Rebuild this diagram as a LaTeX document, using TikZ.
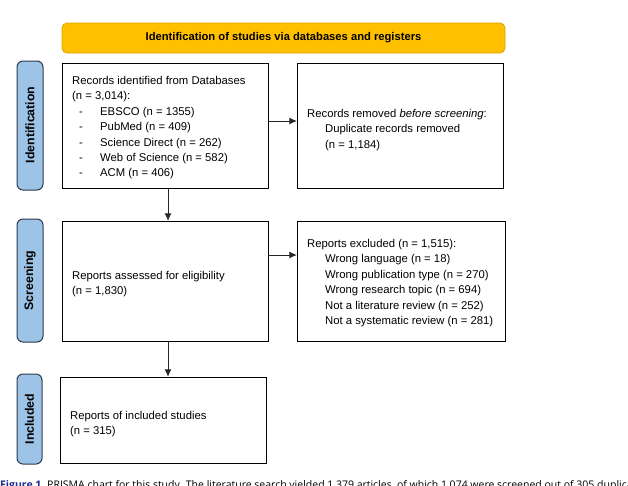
\documentclass[tikz,border=0pt]{standalone}
\usepackage{fontspec}
\setmainfont{Liberation Sans}
\newfontfamily\capfont{Open Sans}
\usetikzlibrary{arrows.meta}
\definecolor{bannerfill}{HTML}{FFC000}
\definecolor{bannerdraw}{HTML}{D9A300}
\definecolor{sidefill}{HTML}{9DC3E6}
\definecolor{sidedraw}{HTML}{2E3B4E}
\definecolor{capblue}{HTML}{1F2A8C}
\tikzset{
  stagebox/.style={draw=black, line width=1pt, fill=white},
  sidelabel/.style={draw=sidedraw, line width=1pt, fill=sidefill, rounded corners=6pt},
  banner/.style={draw=bannerdraw, line width=0.8pt, fill=bannerfill, rounded corners=5pt},
  boxtext/.style={inner sep=0pt, align=left, anchor=north west, font=\fontsize{11.3}{15.4}\selectfont},
  sidetext/.style={inner sep=0pt, rotate=90, font=\fontsize{12.3}{14}\selectfont\bfseries},
  arr/.style={draw=black!85, line width=0.9pt, -{Latex[length=7.5pt,width=7pt]}}
}
\newcommand{\fl}{\rule{0pt}{8.5pt}}
\newcommand{\ind}{\hspace*{18pt}}
\newcommand{\dashitem}{\hspace*{7pt}\makebox[21pt][l]{-}}
\begin{document}
\begin{tikzpicture}[x=1pt,y=-1pt]
\useasboundingbox (0,0) rectangle (628,485);
\fill[white] (0,0) rectangle (628,485);

% banner
\draw[banner] (62,23) rectangle (505,53);
\node[inner sep=0pt, font=\fontsize{11.2}{14}\selectfont\bfseries] (bannertext) at (283.5,38) {Identification of studies via databases and registers};

% side labels
\draw[sidelabel] (17,61) rectangle (43,190);
\node[sidetext] (lid) at (30,125) {Identification};
\draw[sidelabel] (17,219) rectangle (43,342);
\node[sidetext] (lsc) at (30,280.5) {Screening};
\draw[sidelabel] (17,374) rectangle (42,464);
\node[sidetext] (lin) at (29.5,419) {Included};

% boxes
\draw[stagebox] (62,63) rectangle (268,188);
\node (box1) at (165,125.5) [minimum width=206pt, minimum height=125pt, inner sep=0pt] {};
\draw[stagebox] (297,63) rectangle (503,188);
\node (box2) at (400,125.5) [minimum width=206pt, minimum height=125pt, inner sep=0pt] {};
\draw[stagebox] (62,221) rectangle (268,341);
\node (box3) at (165,281) [minimum width=206pt, minimum height=120pt, inner sep=0pt] {};
\draw[stagebox] (297,221) rectangle (505,341);
\node (box4) at (401,281) [minimum width=208pt, minimum height=120pt, inner sep=0pt] {};
\draw[stagebox] (60,377) rectangle (266,463);
\node (box5) at (163,420) [minimum width=206pt, minimum height=86pt, inner sep=0pt] {};

% texts
\node[boxtext] (t1) at (72,75.8) {\fl Records identified from Databases\\
(n = 3,014):\\
\dashitem EBSCO (n = 1355)\\
\dashitem PubMed (n = 409)\\
\dashitem Science Direct (n = 262)\\
\dashitem Web of Science (n = 582)\\
\dashitem ACM (n = 406)};
\node[boxtext] (t2) at (307,108.8) {\fl Records removed \textit{before screening}:\\
\ind Duplicate records removed\\
\ind (n = 1,184)};
\node[boxtext] (t3) at (72,270.8) {\fl Reports assessed for eligibility\\
(n = 1,830)};
\node[boxtext] (t4) at (307,238.8) {\fl Reports excluded (n = 1,515):\\
\ind Wrong language (n = 18)\\
\ind Wrong publication type (n = 270)\\
\ind Wrong research topic (n = 694)\\
\ind Not a literature review (n = 252)\\
\ind Not a systematic review (n = 281)};
\node[boxtext] (t5) at (70,410.8) {\fl Reports of included studies\\
(n = 315)};

% connectors
\coordinate (ya) at (0,121);
\coordinate (yb) at (0,255);
\coordinate (xa) at (168,0);
\draw[arr] (box1.east |- ya) -- (box2.west |- ya);
\draw[arr] (box3.east |- yb) -- (box4.west |- yb);
\draw[arr] (box1.south -| xa) -- (box3.north -| xa);
\draw[arr] (box3.south -| xa) -- (box5.north -| xa);

% caption (cut off at the bottom edge, as in the reference)
\begin{scope}
\clip (0,0) rectangle (628,485);
\node[inner sep=0pt, anchor=base west, font=\capfont\fontsize{10.5}{12}\selectfont] (cap) at (0,488.5) {\textcolor{capblue}{\bfseries Figure 1.}\ PRISMA chart for this study. The literature search yielded 1,379 articles, of which 1,074 were screened out of 305 duplicates};
\end{scope}
\end{tikzpicture}
\end{document}
